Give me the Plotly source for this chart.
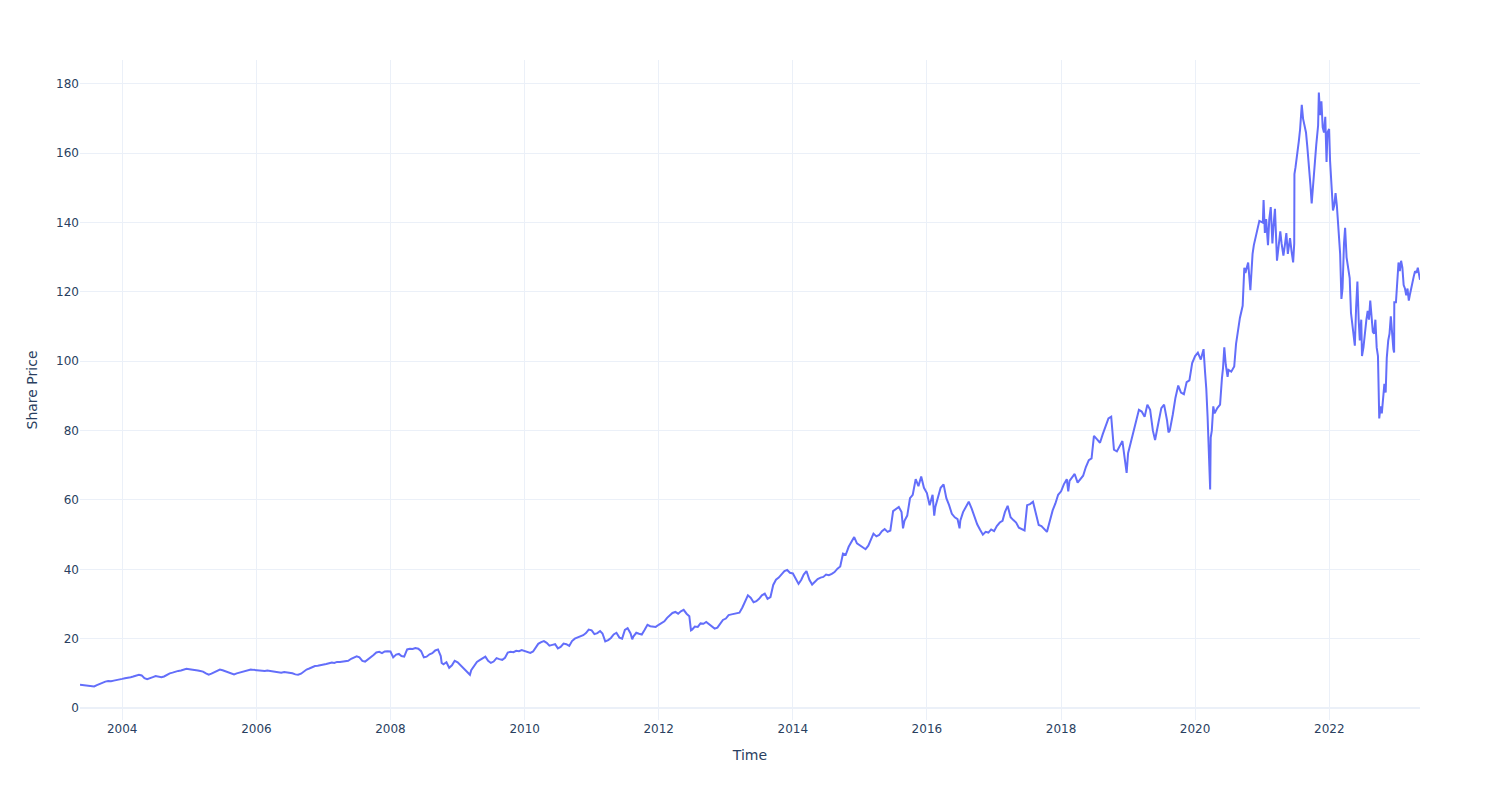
import plotly.graph_objects as go

# Semi-monthly standard sampling days
std_days = ["01-01", "01-16", "02-01", "02-16", "03-01", "03-16", "04-01", "04-16",
            "05-01", "05-16", "06-01", "06-16", "07-01", "07-16", "08-01", "08-16",
            "09-01", "09-16", "10-01", "10-16", "11-01", "11-16", "12-01", "12-16"]

d2003 = ["05-16", "06-01", "06-16", "07-01", "07-16", "08-01", "08-16", "09-01",
         "09-16", "10-01", "10-16", "11-01", "11-16", "12-01", "12-16"]
p2003 = [6.7, 6.6, 6.5, 6.3, 6.4, 6.2, 6.6, 7.0, 7.4, 7.6, 7.8, 7.7, 7.9, 8.0, 8.2]

d2004 = std_days
p2004 = [8.4, 8.6, 8.7, 8.9, 9.1, 9.3, 9.6, 9.4, 8.6, 8.3, 8.7, 8.9,
         9.2, 9.0, 8.9, 9.1, 9.6, 10.0, 10.2, 10.5, 10.7, 10.8, 11.0, 11.3]

d2005 = std_days
p2005 = [11.2, 11.0, 10.9, 10.8, 10.7, 10.5, 10.0, 9.6, 9.9, 10.3, 10.8, 11.1,
         10.9, 10.6, 10.3, 9.9, 9.7, 10.0, 10.2, 10.4, 10.6, 10.9, 11.1, 11.0]

d2006 = std_days
p2006 = [10.9, 10.7, 10.6, 10.7, 10.8, 10.7, 10.6, 10.4, 10.3, 10.2, 10.4, 10.3,
         10.1, 10.0, 9.7, 9.6, 9.9, 10.6, 11.1, 11.4, 11.8, 12.1, 12.2, 12.3]

d2007 = std_days
p2007 = [12.4, 12.7, 12.9, 13.1, 13.0, 13.3, 13.3, 13.4, 13.5, 13.6, 14.2, 14.6,
         14.9, 14.6, 13.6, 13.4, 14.0, 14.5, 15.3, 16.0, 16.2, 15.8, 16.3, 16.4]

d2008 = ["01-01", "01-16", "02-01", "02-16", "03-01", "03-16", "04-01", "04-16",
         "05-01", "05-16", "06-01", "06-16", "07-01", "07-16", "08-01", "08-16",
         "09-01", "09-16", "10-01", "10-06", "10-16", "11-01", "11-16", "12-01", "12-16"]
p2008 = [16.3, 14.6, 15.4, 15.6, 15.0, 14.8, 16.9, 17.1, 17.0, 17.3, 17.1, 16.4,
         14.6, 14.8, 15.5, 15.8, 16.6, 16.9, 15.0, 13.0, 12.6, 13.2, 11.6, 12.3, 13.6]

d2009 = ["01-01", "01-16", "02-01", "02-16", "03-01", "03-09", "03-16", "04-01",
         "04-16", "05-01", "05-16", "06-01", "06-16", "07-01", "07-16", "08-01",
         "08-16", "09-01", "09-16", "10-01", "10-16", "11-01", "11-16", "12-01", "12-16"]
p2009 = [13.2, 12.4, 11.8, 11.0, 10.0, 9.6, 10.9, 12.0, 13.3, 13.8, 14.2, 14.8,
         13.6, 13.0, 13.4, 14.4, 14.1, 13.9, 14.5, 16.0, 16.2, 16.1, 16.5, 16.4, 16.7]

d2010 = std_days
p2010 = [16.5, 16.1, 15.9, 16.3, 17.2, 18.5, 19.0, 19.3, 18.8, 18.0, 18.2, 18.4,
         17.2, 17.6, 18.6, 18.4, 17.9, 19.3, 20.0, 20.3, 20.6, 21.0, 21.6, 22.6]

d2011 = ["01-01", "01-16", "02-01", "02-16", "03-01", "03-16", "04-01", "04-16",
         "05-01", "05-16", "06-01", "06-16", "07-01", "07-16", "08-01", "08-10",
         "08-16", "09-01", "09-16", "10-01", "10-16", "11-01", "11-16", "12-01", "12-16"]
p2011 = [22.4, 21.3, 21.6, 22.2, 21.5, 19.2, 19.6, 20.2, 21.2, 21.7, 20.3, 20.0,
         22.5, 23.0, 21.5, 19.8, 20.6, 21.7, 21.4, 21.2, 22.5, 24.0, 23.6, 23.5, 23.4]

d2012 = ["01-01", "01-16", "02-01", "02-16", "03-01", "03-16", "04-01", "04-16",
         "05-01", "05-16", "06-01", "06-16", "06-25", "07-01", "07-16", "08-01",
         "08-16", "09-01", "09-16", "10-01", "10-16", "11-01", "11-16", "12-01", "12-16"]
p2012 = [24.0, 24.4, 25.0, 26.0, 26.6, 27.4, 27.7, 27.2, 27.9, 28.3, 27.2, 26.5,
         22.4, 22.6, 23.5, 23.4, 24.4, 24.3, 24.8, 24.1, 23.4, 22.9, 23.2, 24.5, 25.4]

d2013 = std_days
p2013 = [25.8, 26.8, 27.0, 27.2, 27.4, 27.5, 29.0, 31.0, 32.5, 31.8, 30.5, 30.8,
         31.5, 32.5, 33.0, 31.5, 32.0, 35.5, 37.0, 37.6, 38.5, 39.5, 39.8, 39.0]

d2014 = std_days
p2014 = [38.8, 37.5, 35.8, 37.0, 38.5, 39.5, 37.0, 35.6, 36.5, 37.2, 37.6, 37.8,
         38.5, 38.3, 38.7, 39.2, 40.2, 40.8, 44.5, 44.2, 46.5, 48.0, 49.3, 47.5]

d2015 = ["01-01", "01-16", "02-01", "02-16", "03-01", "03-16", "04-01", "04-16",
         "05-01", "05-16", "06-01", "06-16", "07-01", "07-16", "08-01", "08-16",
         "08-24", "09-01", "09-16", "10-01", "10-16", "11-01", "11-16", "12-01", "12-16"]
p2015 = [47.0, 46.5, 45.8, 46.8, 48.5, 50.3, 49.5, 49.9, 51.0, 51.6, 50.8, 51.2,
         56.8, 57.5, 58.0, 56.5, 51.8, 54.0, 55.5, 60.5, 61.5, 66.0, 64.0, 66.8, 63.5]

d2016 = ["01-01", "01-16", "02-01", "02-10", "02-16", "03-01", "03-16", "04-01",
         "04-16", "05-01", "05-16", "06-01", "06-16", "06-27", "07-01", "07-16",
         "08-01", "08-16", "09-01", "09-16", "10-01", "10-16", "11-01", "11-16",
         "12-01", "12-16"]
p2016 = [62.0, 58.5, 61.5, 55.5, 58.0, 61.0, 63.5, 64.5, 60.5, 58.5, 56.0, 55.0,
         54.5, 51.8, 54.0, 56.5, 58.0, 59.5, 57.5, 55.0, 53.0, 51.5, 50.0, 50.8,
         50.6, 51.5]

d2017 = ["01-01", "01-16", "02-01", "02-16", "03-01", "03-16", "04-01", "04-16",
         "05-01", "05-16", "06-01", "06-16", "06-30", "07-16", "08-01", "08-16",
         "09-01", "09-16", "10-01", "10-16", "11-01", "11-16", "12-01", "12-16"]
p2017 = [51.0, 52.5, 53.5, 54.0, 56.5, 58.3, 55.0, 54.2, 53.5, 52.0, 51.5, 51.2,
         58.5, 58.8, 59.5, 56.0, 52.8, 52.5, 51.5, 50.8, 54.0, 57.0, 59.0, 61.5]

d2018 = ["01-01", "01-16", "02-01", "02-09", "02-16", "03-01", "03-16", "04-01",
         "04-16", "05-01", "05-16", "06-01", "06-16", "06-29", "07-16", "08-01",
         "08-16", "09-01", "09-16", "10-01", "10-10", "10-16", "11-01", "11-16",
         "12-01", "12-16", "12-24"]
p2018 = [62.5, 64.5, 66.0, 62.5, 65.5, 66.5, 67.5, 65.0, 66.0, 67.0, 69.5, 71.5,
         72.0, 78.5, 77.5, 76.5, 79.0, 81.5, 83.5, 84.0, 77.0, 74.5, 74.0, 75.5,
         77.0, 71.0, 67.8]

d2019 = ["01-01", "01-16", "02-01", "02-16", "03-01", "03-16", "04-01", "04-16",
         "05-01", "05-16", "05-28", "06-16", "07-01", "07-16", "08-01", "08-09",
         "08-16", "09-01", "09-16", "10-01", "10-16", "11-01", "11-16", "12-01", "12-16"]
p2019 = [73.5, 76.5, 80.5, 83.5, 86.0, 85.5, 84.0, 87.5, 86.0, 80.0, 77.3, 82.5,
         86.5, 87.5, 83.0, 79.5, 80.0, 84.5, 89.5, 93.0, 91.0, 90.5, 94.0, 94.5, 99.5]

d2020 = ["01-01", "01-16", "02-01", "02-16", "02-24", "03-02", "03-09", "03-16",
         "03-23", "03-26", "04-01", "04-09", "04-16", "05-01", "05-16", "05-26",
         "06-01", "06-08", "06-16", "06-26", "07-01", "07-16", "08-01", "08-11",
         "08-16", "09-01", "09-16", "09-25", "10-01", "10-16", "10-28", "11-09",
         "11-16", "12-01", "12-16"]
p2020 = [101.5, 102.5, 100.5, 103.5, 97.0, 92.0, 84.0, 72.0, 63.0, 78.0, 80.0, 87.0,
         85.0, 86.5, 87.5, 95.0, 98.0, 104.0, 99.0, 95.5, 97.5, 97.0, 98.5, 105.0,
         107.0, 112.5, 116.0, 127.0, 125.5, 128.5, 120.5, 131.0, 133.5, 137.0, 140.5]

d2021 = ["01-04", "01-08", "01-15", "01-22", "02-01", "02-08", "02-16", "02-25",
         "03-03", "03-11", "03-22", "04-01", "04-09", "04-16", "04-26", "05-04",
         "05-12", "05-20", "06-01", "06-10", "06-18", "06-24", "06-25", "07-01",
         "07-12", "07-19", "07-26", "08-04", "08-11", "08-18", "08-27", "09-03",
         "09-10", "09-20", "09-27", "10-04", "10-12", "10-22", "11-01", "11-05",
         "11-12", "11-19", "11-26", "12-03", "12-10", "12-17", "12-22", "12-31"]
p2021 = [140.0, 146.5, 137.0, 141.0, 133.5, 141.0, 144.5, 134.0, 139.0, 144.0,
         129.0, 134.0, 137.5, 134.0, 130.5, 133.5, 137.0, 131.0, 135.5, 131.5,
         128.5, 134.0, 154.0, 156.0, 160.0, 163.5, 167.0, 174.0, 170.0, 168.5,
         166.0, 162.0, 158.0, 151.0, 145.5, 150.5, 158.0, 162.5, 168.0, 177.5,
         171.0, 175.0, 167.5, 166.0, 170.5, 157.5, 166.0, 167.0]

d2022 = ["01-05", "01-12", "01-21", "01-28", "02-04", "02-11", "02-18", "02-24",
         "03-01", "03-08", "03-14", "03-22", "03-28", "04-05", "04-12", "04-22",
         "04-29", "05-06", "05-12", "05-20", "05-27", "06-03", "06-10", "06-16",
         "06-24", "06-28", "07-06", "07-14", "07-22", "07-29", "08-05", "08-12",
         "08-19", "08-26", "09-02", "09-09", "09-16", "09-23", "09-30", "10-07",
         "10-14", "10-21", "10-28", "11-04", "11-10", "11-18", "11-25", "12-02",
         "12-09", "12-16", "12-20", "12-21", "12-30"]
p2022 = [158.0, 152.0, 143.5, 145.0, 148.5, 145.0, 140.0, 135.0, 131.0, 118.0,
         121.0, 134.0, 138.5, 130.0, 128.0, 124.0, 114.0, 110.5, 107.0, 104.5,
         115.5, 123.0, 112.0, 106.0, 112.0, 101.5, 104.0, 108.5, 112.0, 114.5,
         112.0, 117.5, 113.0, 108.5, 108.0, 112.0, 104.0, 101.5, 83.5, 87.0,
         85.0, 89.5, 93.5, 91.0, 101.0, 106.0, 108.0, 113.0, 106.5, 103.5,
         102.5, 117.0, 117.0]

d2023 = ["01-06", "01-13", "01-20", "01-27", "02-03", "02-10", "02-17", "02-24",
         "03-03", "03-10", "03-17", "03-24", "03-31", "04-06", "04-13", "04-21",
         "04-28", "05-05", "05-10"]
p2023 = [124.0, 128.5, 126.0, 129.0, 127.0, 122.0, 121.0, 119.0, 121.0, 117.5,
         119.5, 121.5, 122.5, 124.5, 126.0, 125.5, 127.0, 124.0, 123.5]

years = {
    2003: (d2003, p2003), 2004: (d2004, p2004), 2005: (d2005, p2005),
    2006: (d2006, p2006), 2007: (d2007, p2007), 2008: (d2008, p2008),
    2009: (d2009, p2009), 2010: (d2010, p2010), 2011: (d2011, p2011),
    2012: (d2012, p2012), 2013: (d2013, p2013), 2014: (d2014, p2014),
    2015: (d2015, p2015), 2016: (d2016, p2016), 2017: (d2017, p2017),
    2018: (d2018, p2018), 2019: (d2019, p2019), 2020: (d2020, p2020),
    2021: (d2021, p2021), 2022: (d2022, p2022), 2023: (d2023, p2023),
}

dates, prices = [], []
for yr, (ds, ps) in years.items():
    assert len(ds) == len(ps), yr
    dates += [f"{yr}-{d}" for d in ds]
    prices += ps

fig = go.Figure(
    go.Scatter(x=dates, y=prices, mode="lines",
               line=dict(color="#636efa", width=2), showlegend=False)
)
fig.update_layout(
    template="plotly_white",
    width=1500, height=800,
    font=dict(family="DejaVu Sans", color="#2a3f5f"),
    margin=dict(l=80, r=80, t=60, b=80),
    xaxis=dict(title="Time"),
    yaxis=dict(title="Share Price", range=[-3.46, 186.9]),
)
fig.write_html("out.html")
